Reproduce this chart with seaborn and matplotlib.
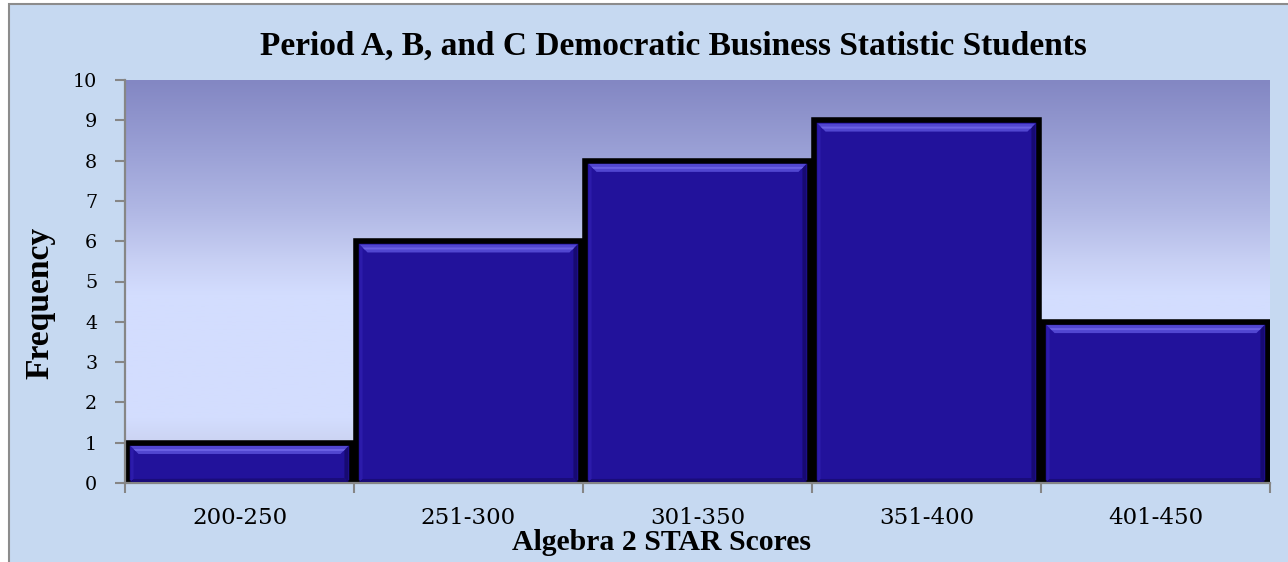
import numpy as np
import pandas as pd
import matplotlib
matplotlib.use("Agg")
import matplotlib.pyplot as plt
import seaborn as sns
from matplotlib.colors import LinearSegmentedColormap
from matplotlib.patches import Rectangle, Polygon
from matplotlib.transforms import IdentityTransform

# ---------------- data ----------------
categories = ["200-250", "251-300", "301-350", "351-400", "401-450"]
frequency = [1, 6, 8, 9, 4]
y_ticks = list(range(0, 11))
title = "Period A, B, and C Democratic Business Statistic Students"
x_label = "Algebra 2 STAR Scores"
y_label = "Frequency"

# ---------------- style ----------------
sns.set_style("white")
plt.rcParams["font.family"] = ["DejaVu Serif"]
BOLD_FAMILY = ["Liberation Serif", "DejaVu Serif"]

W, H, DPI = 1288, 562, 100
BAR = "#22129B"
GRAY = "#868686"
CHART_BG = "#C6D9F1"

fig = plt.figure(figsize=(W / DPI, H / DPI), dpi=DPI)
fig.patch.set_facecolor("white")

# chart area (Excel-like chart background with a border on left/top)
bg = Rectangle((9, -30), W + 60, (H - 4) + 30, transform=IdentityTransform(),
               facecolor=CHART_BG, edgecolor="#8C8C8C", linewidth=1.5, zorder=-5)
fig.add_artist(bg)

# plot area
L, R, T, B = 125, 1270, 80, 483
ax = fig.add_axes([L / W, (H - B) / H, (R - L) / W, (B - T) / H])
ax.set_facecolor("none")

stops = [(0.0, "#BDC4DF"), (0.09, "#CAD2F0"), (0.16, "#D3DDFE"), (0.47, "#D3DDFE"),
         (0.55, "#C8D0F4"), (0.68, "#B0B7E4"), (0.82, "#9BA1D6"), (1.0, "#8387C3")]
cmap = LinearSegmentedColormap.from_list("plotbg", stops)
grad = np.linspace(0, 1, 256).reshape(-1, 1)
ax.imshow(grad, cmap=cmap, extent=[0, 1, 0, 1], transform=ax.transAxes,
          origin="lower", aspect="auto", zorder=0, interpolation="bilinear")

df = pd.DataFrame({"score": categories, "freq": frequency})
BAR_LW = 4.0
sns.barplot(data=df, x="score", y="freq", color=BAR, saturation=1, width=0.98,
            edgecolor="black", linewidth=BAR_LW, ax=ax, zorder=2)

ax.set_xlim(-0.5, len(categories) - 0.5)
ax.set_ylim(0, 10)
ax.set_xlabel("")
ax.set_ylabel("")

ax.set_yticks(y_ticks)
ax.set_yticklabels([str(v) for v in y_ticks])
ax.tick_params(axis="y", which="major", left=True, length=7, width=1.5, color=GRAY,
               direction="out", pad=13, labelsize=13.8, labelcolor="black")
ax.set_xticks(range(len(categories)))
ax.set_xticklabels(categories)
ax.tick_params(axis="x", which="major", bottom=True, length=0, pad=17,
               labelsize=16.5, labelcolor="black")
ax.set_xticks(np.arange(-0.5, len(categories), 1.0), minor=True)
ax.tick_params(axis="x", which="minor", bottom=True, length=7, width=1.5,
               color=GRAY, direction="out")

for s in ["top", "right"]:
    ax.spines[s].set_visible(False)
for s in ["left", "bottom"]:
    ax.spines[s].set_color(GRAY)
    ax.spines[s].set_linewidth(1.6)
    ax.spines[s].set_zorder(4)

# ---------------- bevel effect on bars ----------------
lw_px = BAR_LW * DPI / 72.0
for p in list(ax.patches):
    x0, y0, w, h = p.get_x(), p.get_y(), p.get_width(), p.get_height()
    px0, py0 = ax.transData.transform((x0, y0))
    px1, py1 = ax.transData.transform((x0 + w, y0 + h))
    ix0, ix1 = px0 + lw_px / 2 + 0.5, px1 - lw_px / 2 - 0.5
    iy0, iy1 = py0 + 1, py1 - lw_px / 2 - 0.5
    b = 8
    top = Polygon([(ix0, iy1), (ix1, iy1), (ix1 - b, iy1 - b), (ix0 + b, iy1 - b)],
                  closed=True, transform=IdentityTransform(), facecolor="#5146D0",
                  edgecolor="none", zorder=3)
    hl = Polygon([(ix0 + 3, iy1 - 3), (ix1 - 3, iy1 - 3), (ix1 - 5, iy1 - 5), (ix0 + 5, iy1 - 5)],
                 closed=True, transform=IdentityTransform(), facecolor="#6A60E4",
                 edgecolor="none", zorder=3)
    right = Polygon([(ix1, iy1), (ix1, iy0), (ix1 - 4, iy0 + 4), (ix1 - 4, iy1 - 4)],
                    closed=True, transform=IdentityTransform(), facecolor="#170A72",
                    edgecolor="none", zorder=3)
    left = Polygon([(ix0, iy1), (ix0, iy0), (ix0 + 3, iy0 + 3), (ix0 + 3, iy1 - 3)],
                   closed=True, transform=IdentityTransform(), facecolor="#2C1BAA",
                   edgecolor="none", zorder=3)
    bottom = Polygon([(ix0, iy0), (ix1, iy0), (ix1 - 4, iy0 + 4), (ix0 + 3, iy0 + 3)],
                     closed=True, transform=IdentityTransform(), facecolor="#1A0C7A",
                     edgecolor="none", zorder=3)
    for art in (left, right, bottom, top, hl):
        fig.add_artist(art)

# ---------------- texts ----------------
renderer = fig.canvas.get_renderer()


def fit_width(t, target, use_height=False):
    bb = t.get_window_extent(renderer)
    size = bb.height if use_height else bb.width
    t.set_fontsize(t.get_fontsize() * target / size)


t_title = fig.text(673 / W, (H - 55) / H, title, ha="center", va="baseline",
                   fontsize=20, fontweight="bold", color="black", family=BOLD_FAMILY)
fit_width(t_title, 827)

t_x = fig.text(662 / W, (H - 550) / H, x_label, ha="center", va="baseline",
               fontsize=16, fontweight="bold", color="black", family=BOLD_FAMILY)
fit_width(t_x, 300)

t_y = fig.text(40 / W, (H - 303) / H, y_label, ha="center", va="center",
               rotation=90, fontsize=16, fontweight="bold", color="black",
               family=BOLD_FAMILY)
fit_width(t_y, 153, use_height=True)

fig.savefig("out.png", dpi=DPI, facecolor=fig.get_facecolor())
